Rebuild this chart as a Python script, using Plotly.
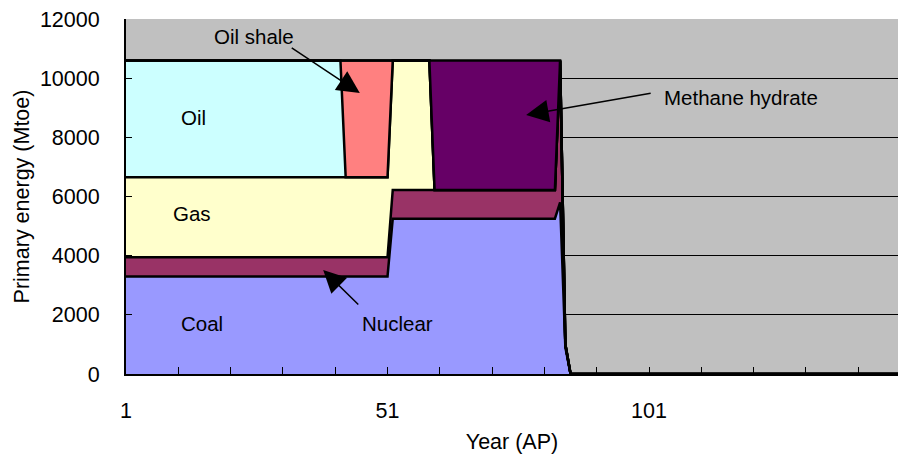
import plotly.graph_objects as go

# ---- data (Mtoe per year, categories 1..150) ----
years = list(range(1, 151))
coal = [3300] * 51 + [5250] * 32 + [5800, 900] + [0] * 65
nuclear = [650] * 51 + [970] * 32 + [4800, 100] + [0] * 65
gas = [2700] * 51 + [4380] * 8 + [0] * 91
oil = [3950] * 42 + [0] * 108
oil_shale = [0] * 42 + [3950] * 9 + [0] * 99
methane_hydrate = [0] * 59 + [4380] * 24 + [0] * 67

series = [
    ("Coal", coal, "#9999FF"),
    ("Nuclear", nuclear, "#993366"),
    ("Gas", gas, "#FFFFCC"),
    ("Oil", oil, "#CCFFFF"),
    ("Oil shale", oil_shale, "#FF8080"),
    ("Methane hydrate", methane_hydrate, "#660066"),
]

tick_vals = list(range(1, 150, 10))
tick_text = [str(v) if v in (1, 51, 101) else "" for v in tick_vals]

FONT = "Liberation Sans, Arial, sans-serif"

fig = go.Figure()
for name, vals, col in series:
    fig.add_trace(go.Scatter(
        x=years, y=vals, name=name, mode="lines", stackgroup="one",
        fillcolor=col, line=dict(color="black", width=2.5, shape="linear"),
    ))

fig.update_layout(
    width=898, height=461,
    margin=dict(l=126, r=0, t=19, b=87, autoexpand=False),
    paper_bgcolor="white", plot_bgcolor="#C0C0C0",
    showlegend=False,
    font=dict(family=FONT, size=21.5, color="black"),
)
fig.update_xaxes(
    range=[1, 148.6], tickmode="array", tickvals=tick_vals, ticktext=tick_text,
    ticks="inside", ticklen=7, tickcolor="black", tickwidth=1,
    showline=True, linecolor="black", linewidth=2, showgrid=False, zeroline=False,
    ticklabelstandoff=16, automargin=False,
    title=dict(text="Year (AP)", font=dict(size=21.5), standoff=12),
)
fig.update_yaxes(
    range=[0, 12000], dtick=2000, tickformat="d",
    ticks="inside", ticklen=6, tickcolor="black", tickwidth=1,
    showline=True, linecolor="black", linewidth=2,
    showgrid=True, gridcolor="black", gridwidth=1, zeroline=False,
    ticklabelstandoff=20, automargin=False,
    title=dict(text="Primary energy (Mtoe)", font=dict(size=21.5), standoff=4),
)

labels = [
    ("Oil shale", 25.5, 11392),
    ("Oil", 14.0, 8687),
    ("Gas", 13.6, 5442),
    ("Coal", 15.5, 1724),
    ("Nuclear", 53.0, 1724),
    ("Methane hydrate", 118.6, 9330),
]
for txt, x, y in labels:
    fig.add_annotation(x=x, y=y, text=txt, showarrow=False,
                       font=dict(size=20.5, family=FONT), xref="x", yref="y")

arrows = [
    (32.4, 11054, 45.7, 9499),
    (101.6, 9499, 77.5, 8755),
    (45.7, 2299, 38.7, 3515),
]
for ax, ay, x, y in arrows:
    fig.add_annotation(x=x, y=y, ax=ax, ay=ay, xref="x", yref="y",
                       axref="x", ayref="y", text="", showarrow=True,
                       arrowhead=2, arrowsize=3, arrowwidth=1.5,
                       arrowcolor="black", standoff=0)

fig.write_html(
    "out.html",
    config={"displayModeBar": False},
    post_script="document.body.style.margin='0';document.body.style.overflow='hidden';",
)
